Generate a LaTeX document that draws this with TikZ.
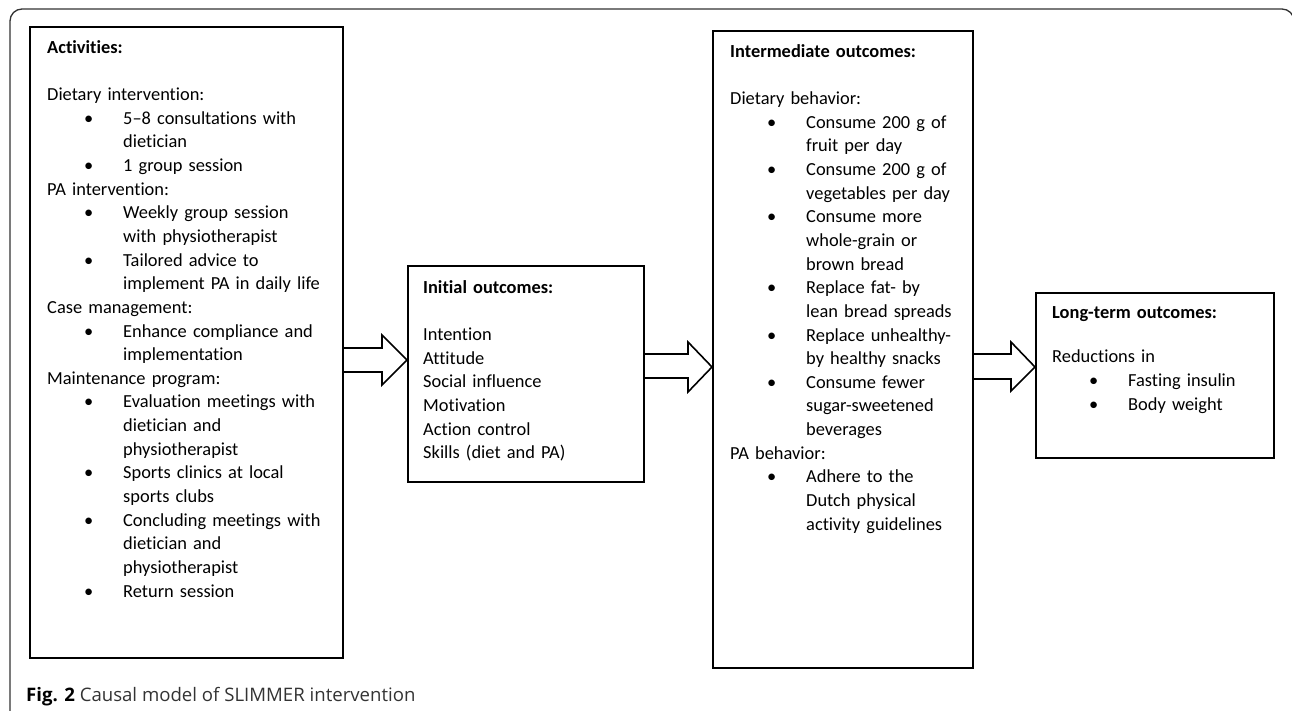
\documentclass[tikz,border=0pt]{standalone}
\usepackage{fontspec}
\setmainfont{Carlito}[Ligatures=NoCommon]
\newfontfamily\capfont{Open Sans}
\newcommand{\bitem}[1]{\hspace*{37pt}\makebox[39pt][l]{\textbullet}#1}
\newcommand{\bcont}[1]{\hspace*{76pt}#1}
\begin{document}
\begin{tikzpicture}[x=1pt,y=-1pt]
				% Set styles
				\tikzset{outcome box/.style={draw, line width=1.6pt, anchor=north west, inner sep=0pt},
					box text/.style={anchor=north west, inner sep=0pt, align=left, text width=420pt,
						font=\fontsize{18.4}{23.65}\selectfont},
					block arrow/.style={draw, line width=1.6pt, line join=miter},
					frame/.style={draw=black!80, line width=1.3pt, rounded corners=12pt}}
				
				\useasboundingbox (0,0) rectangle (1292,710);
				
				% Outer frame
				\draw[frame] (10,720) -- (10,9) -- (1294,9) -- (1294,40);
				
				% Draw the four boxes
				\node [outcome box, minimum width=313pt, minimum height=631pt] (act) at (29,26) {};
				\node [outcome box, minimum width=236pt, minimum height=216pt] (ini) at (407,265) {};
				\node [outcome box, minimum width=260pt, minimum height=637pt] (int) at (712,30) {};
				\node [outcome box, minimum width=238pt, minimum height=165pt] (lt) at (1035,292) {};
				
				% Texts of the boxes
				\node [box text] (actText) at (47,36) {\rule{0pt}{17pt}\textbf{Activities:}\\[23.65pt]
					Dietary intervention:\\
					\bitem{5–8 consultations with}\\
					\bcont{dietician}\\
					\bitem{1 group session}\\
					PA intervention:\\
					\bitem{Weekly group session}\\
					\bcont{with physiotherapist}\\
					\bitem{Tailored advice to}\\
					\bcont{implement PA in daily life}\\
					Case management:\\
					\bitem{Enhance compliance and}\\
					\bcont{implementation}\\
					Maintenance program:\\
					\bitem{Evaluation meetings with}\\
					\bcont{dietician and}\\
					\bcont{physiotherapist}\\
					\bitem{Sports clinics at local}\\
					\bcont{sports clubs}\\
					\bitem{Concluding meetings with}\\
					\bcont{dietician and}\\
					\bcont{physiotherapist}\\
					\bitem{Return session}};
				\node [box text] (iniText) at (423,276) {\rule{0pt}{17pt}\textbf{Initial outcomes:}\\[23.65pt]
					Intention\\
					Attitude\\
					Social influence\\
					Motivation\\
					Action control\\
					Skills (diet and PA)};
				\node [box text] (intText) at (730,40) {\rule{0pt}{17pt}\textbf{Intermediate outcomes:}\\[23.65pt]
					Dietary behavior:\\
					\bitem{Consume 200 g of}\\
					\bcont{fruit per day}\\
					\bitem{Consume 200 g of}\\
					\bcont{vegetables per day}\\
					\bitem{Consume more}\\
					\bcont{whole-grain or}\\
					\bcont{brown bread}\\
					\bitem{Replace fat- by}\\
					\bcont{lean bread spreads}\\
					\bitem{Replace unhealthy-}\\
					\bcont{by healthy snacks}\\
					\bitem{Consume fewer}\\
					\bcont{sugar-sweetened}\\
					\bcont{beverages}\\
					PA behavior:\\
					\bitem{Adhere to the}\\
					\bcont{Dutch physical}\\
					\bcont{activity guidelines}};
				\node [box text] (ltText) at (1052,301) {\rule{0pt}{17pt}\textbf{Long-term outcomes:}\\[21pt]
					Reductions in\\
					\bitem{Fasting insulin}\\
					\bitem{Body weight}};
				
				% Block arrows between the boxes
				\draw[block arrow] (act.east |- 0,348) -- (382,348) -- (382,335) -- (ini.west |- 0,360)
					-- (382,385) -- (382,372) -- (act.east |- 0,372);
				\draw[block arrow] (ini.east |- 0,354) -- (688,354) -- (688,342) -- (int.west |- 0,367)
					-- (688,392) -- (688,378) -- (ini.east |- 0,378);
				\draw[block arrow] (int.east |- 0,354) -- (1011,354) -- (1011,342) -- (lt.west |- 0,367)
					-- (1011,391) -- (1011,379) -- (int.east |- 0,379);
				
				% Caption
				\node [anchor=base west, inner sep=0pt, font=\capfont\fontsize{18.6}{22}\selectfont, text=black!80] (caption) at (26,701)
					{\textbf{\color{black}Fig. 2} Causal model of SLIMMER intervention};
				
			\end{tikzpicture}
\end{document}
